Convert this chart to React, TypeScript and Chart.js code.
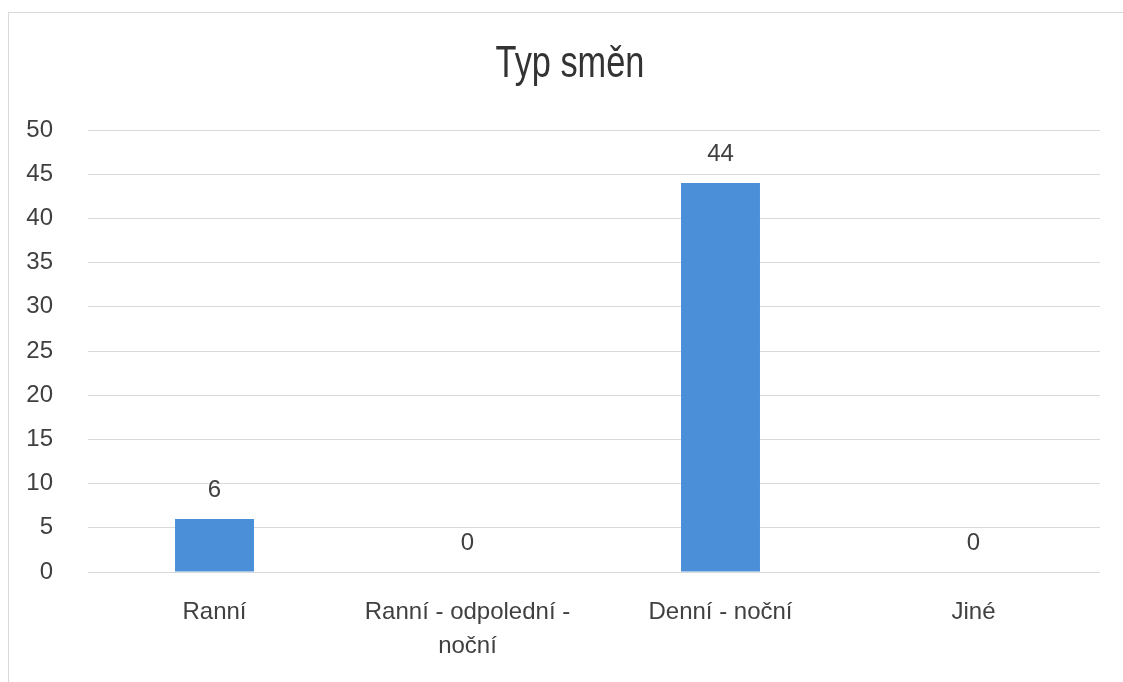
import React, { useEffect, useRef } from "react";
import { Chart, registerables } from "chart.js";

Chart.register(...registerables);

const TITLE = "Typ směn";
const categories: (string | string[])[] = [
  "Ranní",
  ["Ranní - odpolední -", "noční"],
  "Denní - noční",
  "Jiné",
];
const values: number[] = [6, 0, 44, 0];
const yMin = 0;
const yMax = 50;
const yStep = 5;

const TEXT = "#404040";
const BAR = "#4a8fd8";
const GRID = "#d9d9d9";
const FONT = "'Liberation Sans', Arial, sans-serif";

const valueLabels = {
  id: "valueLabels",
  afterDatasetsDraw(chart: any) {
    const ctx = chart.ctx;
    const meta = chart.getDatasetMeta(0);
    ctx.save();
    ctx.fillStyle = TEXT;
    ctx.font = `24px ${FONT}`;
    ctx.textAlign = "center";
    ctx.textBaseline = "bottom";
    meta.data.forEach((bar: any, i: number) => {
      const v = chart.data.datasets[0].data[i];
      ctx.fillText(String(v), bar.x, bar.y - 17);
    });
    ctx.restore();
  },
};

const narrowTitle = {
  id: "narrowTitle",
  afterDraw(chart: any) {
    const ctx = chart.ctx;
    ctx.save();
    ctx.fillStyle = "#333333";
    ctx.font = `44px ${FONT}`;
    ctx.textAlign = "center";
    ctx.textBaseline = "alphabetic";
    const cx = chart.width / 2 + 4;
    ctx.translate(cx, 64);
    ctx.scale(0.78, 1);
    ctx.fillText(TITLE, 0, 0);
    ctx.restore();
  },
};

export default function App() {
  const ref = useRef<HTMLCanvasElement>(null);
  useEffect(() => {
    if (!ref.current) return;
    const chart = new Chart(ref.current, {
      type: "bar",
      data: {
        labels: categories,
        datasets: [
          {
            data: values,
            backgroundColor: BAR,
            borderWidth: 0,
            barPercentage: 0.312,
            categoryPercentage: 1,
          },
        ],
      },
      options: {
        responsive: false,
        animation: false,
        layout: { padding: { left: 17, right: 23, top: 117, bottom: 19 } },
        plugins: {
          legend: { display: false },
          tooltip: { enabled: false },
          title: { display: false },
        },
        scales: {
          x: {
            grid: { display: false, drawTicks: false },
            border: { display: false },
            ticks: {
              color: TEXT,
              font: { family: FONT, size: 24, lineHeight: 1.4 },
              padding: 24,
              maxRotation: 0,
              autoSkip: false,
            },
            afterFit(scale: any) {
              scale.height = 91;
            },
          },
          y: {
            min: yMin,
            max: yMax,
            grid: { color: GRID, lineWidth: 1, drawTicks: false },
            border: { display: false },
            ticks: {
              stepSize: yStep,
              color: TEXT,
              font: { family: FONT, size: 24 },
              padding: 35,
            },
            afterFit(scale: any) {
              scale.width = 62;
            },
          },
        },
      },
      plugins: [valueLabels, narrowTitle],
    });
    return () => chart.destroy();
  }, []);

  return (
    <div
      style={{
        position: "absolute",
        left: 8,
        top: 12,
        width: 1115,
        height: 670,
        boxSizing: "border-box",
        borderTop: `1px solid ${GRID}`,
        borderLeft: `1px solid ${GRID}`,
        background: "#fff",
      }}
    >
      <canvas ref={ref} width={1114} height={669} style={{ display: "block" }} />
    </div>
  );
}
